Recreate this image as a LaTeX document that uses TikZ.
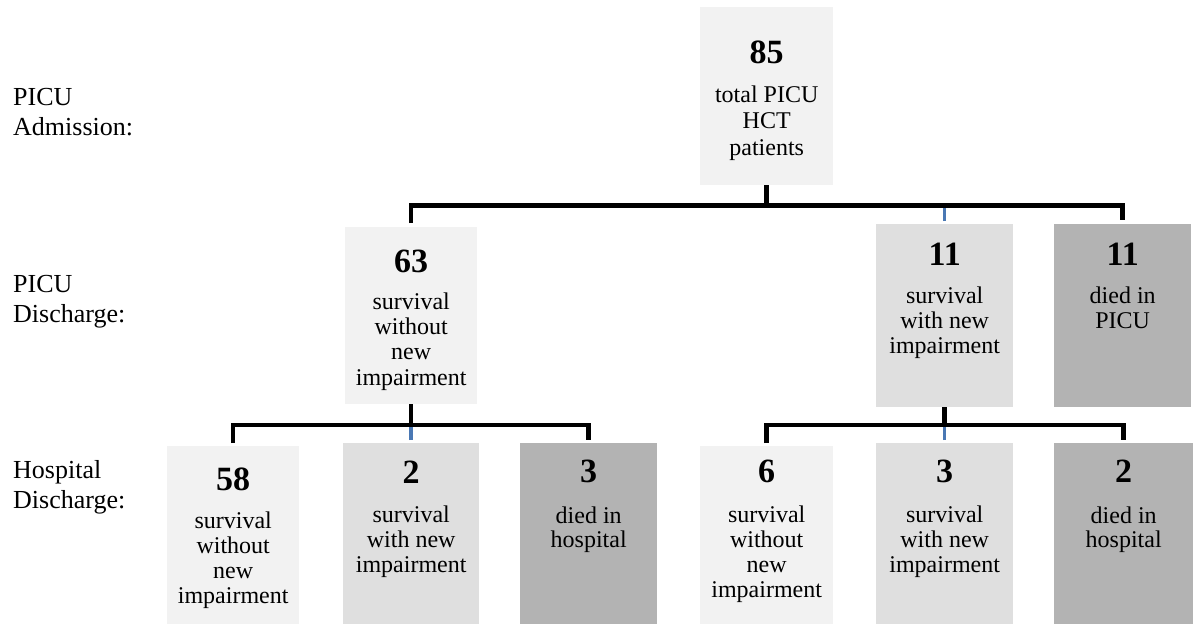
\documentclass[tikz,border=0pt]{standalone}
\usepackage{fontspec}
\setmainfont{Liberation Serif}
\definecolor{boxL}{HTML}{F2F2F2}
\definecolor{boxM}{HTML}{DFDFDF}
\definecolor{boxD}{HTML}{B3B3B3}
\definecolor{linkblue}{HTML}{4A78B4}
\begin{document}
\begin{tikzpicture}[x=1pt,y=-1pt,
  box/.style={rectangle,inner sep=0pt,draw=none,anchor=north west},
  num/.style={anchor=base,inner sep=0pt,font=\fontsize{34}{36}\selectfont\bfseries},
  txt/.style={anchor=base,inner sep=0pt,font=\fontsize{24}{25}\selectfont},
  lbl/.style={anchor=base west,inner sep=0pt,font=\fontsize{26}{30}\selectfont},
  conn/.style={line width=4.5pt,black,line cap=butt,line join=miter},
  blueconn/.style={line width=3.5pt,linkblue}]
\useasboundingbox (0,0) rectangle (1193,624);
% boxes
\node[box,fill=boxL,minimum width=133pt,minimum height=178pt] (top) at (700,7) {};
\node[box,fill=boxL,minimum width=132pt,minimum height=177pt] (b63) at (345,227) {};
\node[box,fill=boxM,minimum width=137pt,minimum height=183pt] (s11) at (876,224) {};
\node[box,fill=boxD,minimum width=137pt,minimum height=183pt] (d11) at (1054,224) {};
\node[box,fill=boxL,minimum width=132pt,minimum height=178pt] (b58) at (167,446) {};
\node[box,fill=boxM,minimum width=136pt,minimum height=181pt] (b2) at (343,443) {};
\node[box,fill=boxD,minimum width=137pt,minimum height=181pt] (b3a) at (520,443) {};
\node[box,fill=boxL,minimum width=133pt,minimum height=178pt] (b6) at (700,446) {};
\node[box,fill=boxM,minimum width=137pt,minimum height=181pt] (b3b) at (876,443) {};
\node[box,fill=boxD,minimum width=139pt,minimum height=181pt] (b2b) at (1054,443) {};
% texts top
\node[num] (t85) at (top.north |- 0,63) {85};
\node[txt] (t85a) at (top.north |- 0,102) {total PICU};
\node[txt] (t85b) at (top.north |- 0,128) {HCT};
\node[txt] (t85c) at (top.north |- 0,155) {patients};
% 63
\node[num] (t63) at (b63.north |- 0,272) {63};
\node[txt] (t63a) at (b63.north |- 0,309) {survival};
\node[txt] (t63b) at (b63.north |- 0,334) {without};
\node[txt] (t63c) at (b63.north |- 0,359) {new};
\node[txt] (t63d) at (b63.north |- 0,385) {impairment};
% 11 survival
\node[num] (ts11) at (s11.north |- 0,265) {11};
\node[txt] (ts11a) at (s11.north |- 0,303) {survival};
\node[txt] (ts11b) at (s11.north |- 0,328) {with new};
\node[txt] (ts11c) at (s11.north |- 0,353) {impairment};
% 11 died
\node[num] (td11) at (d11.north |- 0,265) {11};
\node[txt] (td11a) at (d11.north |- 0,303) {died in};
\node[txt] (td11b) at (d11.north |- 0,328) {PICU};
% 58
\node[num] (t58) at (b58.north |- 0,490) {58};
\node[txt] (t58a) at (b58.north |- 0,528) {survival};
\node[txt] (t58b) at (b58.north |- 0,553) {without};
\node[txt] (t58c) at (b58.north |- 0,578) {new};
\node[txt] (t58d) at (b58.north |- 0,603) {impairment};
% 2
\node[num] (t2) at (b2.north |- 0,483) {2};
\node[txt] (t2a) at (b2.north |- 0,522) {survival};
\node[txt] (t2b) at (b2.north |- 0,547) {with new};
\node[txt] (t2c) at (b2.north |- 0,572) {impairment};
% 3 died
\node[num] (t3a) at (b3a.north |- 0,482) {3};
\node[txt] (t3aa) at (b3a.north |- 0,523) {died in};
\node[txt] (t3ab) at (b3a.north |- 0,547) {hospital};
% 6
\node[num] (t6) at (b6.north |- 0,482) {6};
\node[txt] (t6a) at (b6.north |- 0,522) {survival};
\node[txt] (t6b) at (b6.north |- 0,547) {without};
\node[txt] (t6c) at (b6.north |- 0,572) {new};
\node[txt] (t6d) at (b6.north |- 0,597) {impairment};
% 3 survival
\node[num] (t3b) at (b3b.north |- 0,482) {3};
\node[txt] (t3ba) at (b3b.north |- 0,522) {survival};
\node[txt] (t3bb) at (b3b.north |- 0,547) {with new};
\node[txt] (t3bc) at (b3b.north |- 0,572) {impairment};
% 2 died
\node[num] (t2b) at (b2b.north |- 0,482) {2};
\node[txt] (t2ba) at (b2b.north |- 0,523) {died in};
\node[txt] (t2bb) at (b2b.north |- 0,547) {hospital};
% left labels
\node[lbl] (l1a) at (13,105) {PICU};
\node[lbl] (l1b) at (13,135) {Admission:};
\node[lbl] (l2a) at (13,292) {PICU};
\node[lbl] (l2b) at (13,322) {Discharge:};
\node[lbl] (l3a) at (13,478) {Hospital};
\node[lbl] (l3b) at (13,508) {Discharge:};
% connectors
\coordinate (bus1) at (top.south |- 0,205.5);
\coordinate (bus2) at (b63.south |- 0,425);
\coordinate (bus3) at (s11.south |- 0,425);
\draw[blueconn] ([yshift=3pt]s11.north) -- (s11.north |- bus1);
\draw[blueconn] ([yshift=3pt]b2.north) -- (b2.north |- bus2);
\draw[blueconn] ([yshift=3pt]b3b.north) -- (b3b.north |- bus3);
\draw[conn] (top.south) -- (bus1);
\draw[conn] ([yshift=4pt]b63.north) |- (bus1) -| ([yshift=4pt]d11.north);
\draw[conn] (b63.south) -- (bus2);
\draw[conn] ([yshift=3pt]b58.north) |- (bus2) -| ([yshift=3pt]b3a.north);
\draw[conn] (s11.south) -- (bus3);
\draw[conn] ([yshift=3pt]b6.north) |- (bus3) -| ([yshift=3pt]b2b.north);
\end{tikzpicture}
\end{document}
